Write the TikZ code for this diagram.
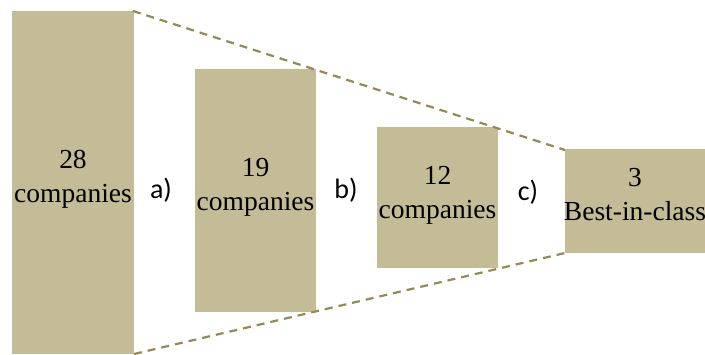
\documentclass[tikz,border=0pt]{standalone}
\usepackage{fontspec}
\setmainfont{Liberation Serif}
\newfontfamily\calibri{Carlito}
\definecolor{boxfill}{HTML}{C4BC96}
\definecolor{dashcol}{HTML}{948A54}
\begin{document}
\begin{tikzpicture}[x=1pt,y=-1pt,
  stage/.style={fill=boxfill,draw=none,inner sep=0pt},
  lbl/.style={font=\fontsize{27.5}{34}\selectfont,align=center,inner sep=0pt},
  step label/.style={font=\calibri\fontsize{28}{32}\selectfont,inner sep=0pt},
  funnel/.style={draw=dashcol,line width=2.2pt,dash pattern=on 8pt off 6pt}]
\useasboundingbox (0,0) rectangle (705,354);
\fill[boxfill] (12,11) rectangle (134,354);
\fill[boxfill] (195,69) rectangle (316,312);
\fill[boxfill] (377,127) rectangle (498,268);
\fill[boxfill] (565,149) rectangle (705,253);
\coordinate (r1tr) at (133,11);
\coordinate (r1br) at (134,354);
\coordinate (r4tl) at (565,150);
\coordinate (r4bl) at (565,253);
\draw[funnel] (r1tr) -- (r4tl);
\draw[funnel] (r1br) -- (r4bl);
\node[lbl] (t1) at (73,179) {28\\companies};
\node[lbl] (t2) at (255.5,187.5) {19\\companies};
\node[lbl] (t3) at (437.5,195) {12\\companies};
\node[lbl] (t4) at (635,194.5) {3\\Best-in-class};
\node[step label] (a) at (161,190) {a)};
\node[step label] (b) at (346,190) {b)};
\node[step label] (c) at (528,192) {c)};
\end{tikzpicture}
\end{document}
